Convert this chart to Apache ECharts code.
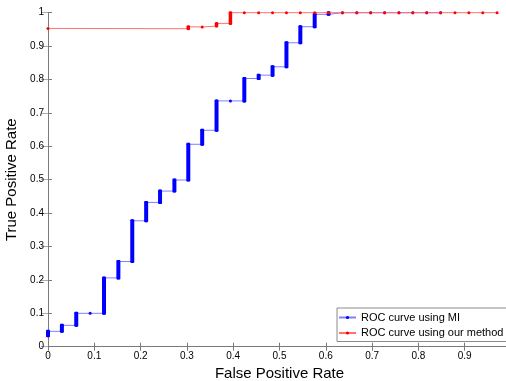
<!DOCTYPE html>
<html>
<head>
<meta charset="utf-8">
<script src="https://cdn.jsdelivr.net/npm/echarts@6/dist/echarts.min.js"></script>
<style>
html,body{margin:0;padding:0;background:#fff;}
#c{width:506px;height:381px;}
</style>
</head>
<body>
<div id="c"></div>
<script>
// ROC curve using MI: false positive rate and the TPR at start/end of each vertical step
const miFPR  = [0, 0.030, 0.061, 0.091, 0.121, 0.152, 0.182, 0.212, 0.242, 0.273, 0.303, 0.333, 0.364, 0.394, 0.424, 0.455, 0.485, 0.515, 0.545, 0.576, 0.606, 0.636, 0.667, 0.697, 0.727, 0.758, 0.788, 0.818, 0.848];
const miLow  = [0.033, 0.046, 0.064, 0.100, 0.100, 0.206, 0.255, 0.377, 0.432, 0.466, 0.499, 0.606, 0.648, 0.736, 0.736, 0.803, 0.813, 0.838, 0.910, 0.958, 0.995, 1, 1, 1, 1, 1, 1, 1, 1];
const miHigh = [0.046, 0.064, 0.100, 0.100, 0.206, 0.255, 0.377, 0.432, 0.466, 0.499, 0.606, 0.648, 0.736, 0.736, 0.803, 0.813, 0.838, 0.910, 0.958, 0.995, 1, 1, 1, 1, 1, 1, 1, 1, 1];

// ROC curve using our method
const ourFPR  = [0, 0.303, 0.333, 0.364, 0.394, 0.424, 0.455, 0.485, 0.515, 0.545, 0.576, 0.606, 0.636, 0.667, 0.697, 0.727, 0.758, 0.788, 0.818, 0.848, 0.879, 0.909, 0.939, 0.970];
const ourLow  = [0.953, 0.952, 0.957, 0.960, 0.968, 1, 1, 1, 1, 1, 1, 1, 1, 1, 1, 1, 1, 1, 1, 1, 1, 1, 1, 1];
const ourHigh = [0.953, 0.958, 0.957, 0.968, 1, 1, 1, 1, 1, 1, 1, 1, 1, 1, 1, 1, 1, 1, 1, 1, 1, 1, 1, 1];

const seriesNames = ['ROC curve using MI', 'ROC curve using our method'];
const xTitle = 'False Positive Rate';
const yTitle = 'True Positive Rate';

function linePoints(xs, lo, hi) {
  const out = [];
  for (let i = 0; i < xs.length; i++) {
    out.push([xs[i], lo[i]]);
    if (hi[i] !== lo[i]) out.push([xs[i], hi[i]]);
  }
  return out;
}
function stepData(xs, lo, hi) {
  const out = [];
  for (let i = 0; i < xs.length; i++) if (hi[i] > lo[i]) out.push([xs[i], lo[i], hi[i]]);
  return out;
}
function vbar(color, w) {
  return function (params, api) {
    const p0 = api.coord([api.value(0), api.value(1)]);
    const p1 = api.coord([api.value(0), api.value(2)]);
    return {
      type: 'rect',
      shape: { x: p0[0] - w / 2, y: p1[1] - w / 2 + 0.5, width: w, height: p0[1] - p1[1] + w - 1, r: 1 },
      style: { fill: color }
    };
  };
}
const fmt = v => String(Math.round(v * 10) / 10);
const axisGray = '#7a7a7a';
const font = '"Liberation Sans", Arial, Helvetica, sans-serif';

const chart = echarts.init(document.getElementById('c'), null, { renderer: 'canvas' });
chart.setOption({
  animation: false,
  backgroundColor: '#fff',
  textStyle: { fontFamily: font },
  grid: { left: 48, top: 12.7, width: 463, height: 334, containLabel: false, outerBoundsMode: 'none' },
  legend: {
    orient: 'vertical',
    left: 337, top: 308,
    data: seriesNames,
    itemWidth: 17, itemHeight: 4, itemGap: 4.5,
    padding: [4, 8, 3, 1],
    borderColor: '#8a8a8a', borderWidth: 1, backgroundColor: '#fff',
    textStyle: { fontSize: 11, color: '#000', fontFamily: font }
  },
  xAxis: [{
    type: 'value', min: 0, max: 1, interval: 0.1, position: 'bottom',
    name: xTitle, nameLocation: 'middle', nameGap: 17,
    nameTextStyle: { fontSize: 15, color: '#000', fontFamily: font },
    axisLine: { lineStyle: { color: axisGray, width: 1 } },
    axisTick: { inside: true, length: 4, lineStyle: { color: axisGray } },
    axisLabel: { formatter: fmt, fontSize: 10, color: '#000', margin: 5, fontFamily: font },
    splitLine: { show: false }
  }, {
    type: 'value', min: 0, max: 1, interval: 0.1, position: 'top',
    axisLine: { lineStyle: { color: axisGray, width: 1 } },
    axisTick: { inside: true, length: 4, lineStyle: { color: axisGray } },
    axisLabel: { show: false }, splitLine: { show: false }
  }],
  yAxis: [{
    type: 'value', min: 0, max: 1, interval: 0.1, position: 'left',
    name: yTitle, nameLocation: 'middle', nameGap: 21,
    nameTextStyle: { fontSize: 15, color: '#000', fontFamily: font },
    axisLine: { lineStyle: { color: axisGray, width: 1 } },
    axisTick: { inside: true, length: 4, lineStyle: { color: axisGray } },
    axisLabel: { formatter: fmt, fontSize: 10, color: '#000', margin: 4, fontFamily: font },
    splitLine: { show: false }
  }, {
    type: 'value', min: 0, max: 1, interval: 0.1, position: 'right',
    axisLine: { lineStyle: { color: axisGray, width: 1 } },
    axisTick: { inside: true, length: 7, lineStyle: { color: '#aaa' } },
    axisLabel: { show: false }, splitLine: { show: false }
  }],
  series: [{
    name: seriesNames[0], type: 'line', clip: false,
    data: linePoints(miFPR, miLow, miHigh),
    symbol: 'circle', symbolSize: 3, showSymbol: true,
    itemStyle: { color: '#0000ff' },
    lineStyle: { color: '#8080ff', width: 1 },
    z: 2
  }, {
    type: 'custom', clip: false,
    data: stepData(miFPR, miLow, miHigh),
    renderItem: vbar('#0000ff', 4),
    z: 3, silent: true
  }, {
    name: seriesNames[1], type: 'line', clip: false,
    data: linePoints(ourFPR, ourLow, ourHigh),
    symbol: 'circle', symbolSize: 3, showSymbol: true,
    itemStyle: { color: '#ff0000' },
    lineStyle: { color: '#ff7070', width: 1 },
    z: 4
  }, {
    type: 'custom', clip: false,
    data: stepData(ourFPR, ourLow, ourHigh),
    renderItem: vbar('#ff0000', 3.5),
    z: 5, silent: true
  }]
});
</script>
</body>
</html>
